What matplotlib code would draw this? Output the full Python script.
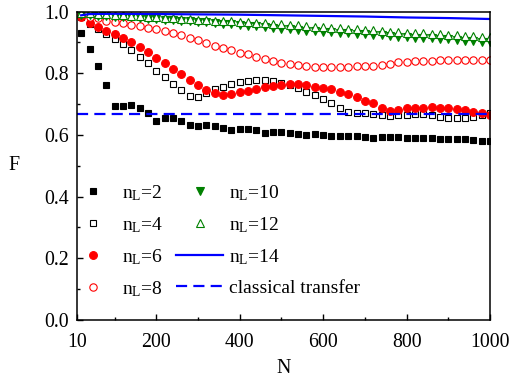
import numpy as np
import matplotlib.pyplot as plt
from matplotlib.ticker import MultipleLocator, FixedLocator

plt.rcParams['font.family'] = ['Liberation Serif', 'DejaVu Serif']
plt.rcParams['mathtext.fontset'] = 'custom'
plt.rcParams['mathtext.rm'] = 'Liberation Serif'
plt.rcParams['mathtext.it'] = 'Liberation Serif:italic'

# chain length N, sampled every 20 sites
N = np.arange(20, 1001, 20)

F2 = [0.929, 0.878, 0.824, 0.762, 0.695, 0.693, 0.697, 0.689, 0.670, 0.646,
      0.654, 0.654, 0.646, 0.631, 0.630, 0.633, 0.630, 0.622, 0.615, 0.619,
      0.620, 0.617, 0.606, 0.608, 0.609, 0.607, 0.602, 0.601, 0.603, 0.601,
      0.597, 0.597, 0.598, 0.597, 0.594, 0.590, 0.592, 0.593, 0.592, 0.589,
      0.591, 0.591, 0.589, 0.586, 0.586, 0.586, 0.586, 0.584, 0.581, 0.582]
F4 = [0.982, 0.959, 0.943, 0.926, 0.911, 0.896, 0.876, 0.854, 0.833, 0.809,
      0.788, 0.765, 0.746, 0.727, 0.724, 0.735, 0.748, 0.756, 0.765, 0.771,
      0.775, 0.778, 0.777, 0.775, 0.770, 0.762, 0.751, 0.740, 0.730, 0.717,
      0.703, 0.689, 0.676, 0.670, 0.670, 0.667, 0.664, 0.661, 0.664, 0.664,
      0.667, 0.667, 0.664, 0.659, 0.656, 0.654, 0.655, 0.659, 0.664, 0.670]
F6 = [0.981, 0.964, 0.951, 0.938, 0.927, 0.914, 0.901, 0.885, 0.868, 0.850,
      0.833, 0.814, 0.797, 0.778, 0.761, 0.746, 0.735, 0.730, 0.733, 0.738,
      0.743, 0.750, 0.754, 0.759, 0.762, 0.764, 0.765, 0.762, 0.756, 0.753,
      0.748, 0.740, 0.732, 0.722, 0.711, 0.703, 0.689, 0.677, 0.682, 0.686,
      0.688, 0.689, 0.690, 0.689, 0.687, 0.684, 0.680, 0.675, 0.670, 0.664]
F8 = [0.991, 0.984, 0.978, 0.970, 0.965, 0.962, 0.958, 0.953, 0.947, 0.942,
      0.937, 0.931, 0.924, 0.915, 0.907, 0.899, 0.890, 0.882, 0.875, 0.867,
      0.861, 0.853, 0.846, 0.839, 0.833, 0.829, 0.826, 0.823, 0.821, 0.820,
      0.819, 0.819, 0.821, 0.822, 0.823, 0.825, 0.827, 0.831, 0.836, 0.838,
      0.839, 0.840, 0.841, 0.842, 0.843, 0.843, 0.843, 0.843, 0.842, 0.842]
F10 = [0.990, 0.989, 0.987, 0.986, 0.984, 0.982, 0.981, 0.979, 0.977, 0.976,
       0.974, 0.972, 0.971, 0.969, 0.967, 0.966, 0.964, 0.961, 0.959, 0.956,
       0.954, 0.952, 0.949, 0.946, 0.944, 0.942, 0.940, 0.938, 0.936, 0.934,
       0.933, 0.931, 0.930, 0.928, 0.926, 0.925, 0.923, 0.921, 0.919, 0.918,
       0.916, 0.915, 0.913, 0.911, 0.910, 0.908, 0.906, 0.905, 0.903, 0.901]
F12 = [0.995, 0.994, 0.992, 0.991, 0.989, 0.988, 0.986, 0.985, 0.983, 0.982,
       0.980, 0.979, 0.977, 0.976, 0.974, 0.973, 0.971, 0.970, 0.968, 0.967,
       0.965, 0.964, 0.962, 0.961, 0.959, 0.957, 0.955, 0.953, 0.951, 0.949,
       0.948, 0.946, 0.944, 0.942, 0.940, 0.939, 0.937, 0.935, 0.933, 0.932,
       0.930, 0.929, 0.927, 0.926, 0.924, 0.923, 0.921, 0.920, 0.918, 0.917]

N14 = [20, 40, 100, 200, 300, 400, 500, 600, 700, 800, 900, 1000]
F14 = [0.988, 0.992, 0.993, 0.992, 0.991, 0.990, 0.988, 0.986, 0.984, 0.981, 0.979, 0.976]

N_cl = [10, 1000]
F_cl = [2 / 3, 2 / 3]

fig = plt.figure(figsize=(5.11, 3.79), dpi=100)
ax = fig.add_axes([0.1507, 0.1557, 0.8082, 0.8137])

ms = 5.0
ax.plot(N, F2, 's', color='black', ms=ms, mew=0.8, label=r'n$_{\rm L}$=2')
ax.plot(N, F4, 's', mfc='white', mec='black', ms=ms, mew=0.8, label=r'n$_{\rm L}$=4')
ax.plot(N, F6, 'o', color='red', ms=5.6, mew=0.8, label=r'n$_{\rm L}$=6')
ax.plot(N, F8, 'o', mfc='white', mec='red', ms=5.3, mew=0.8, label=r'n$_{\rm L}$=8')
ax.plot(N, F10, 'v', color='green', ms=5.6, mew=0.8, label=r'n$_{\rm L}$=10')
ax.plot(N, F12, '^', mfc='white', mec='green', ms=5.6, mew=0.8, label=r'n$_{\rm L}$=12')
ax.plot(N14, F14, '-', color='blue', lw=1.6, label=r'n$_{\rm L}$=14')
ax.plot(N_cl, F_cl, '--', color='blue', lw=1.6, dashes=(5, 2.8), label='classical transfer')

ax.set_xlim(10, 1000)
ax.set_ylim(0, 1.0)
ax.xaxis.set_major_locator(FixedLocator([10, 200, 400, 600, 800, 1000]))
ax.xaxis.set_minor_locator(FixedLocator([100, 300, 500, 700, 900]))
ax.yaxis.set_major_locator(MultipleLocator(0.2))
ax.yaxis.set_minor_locator(MultipleLocator(0.1))
ax.yaxis.set_major_formatter(plt.FormatStrFormatter('%.1f'))
ax.tick_params(which='both', direction='in', top=False, right=False, labelsize=14.3, width=1)
ax.tick_params(which='major', length=4.5)
ax.tick_params(which='minor', length=2.5)
ax.tick_params(axis='x', which='major', pad=9.5)
ax.tick_params(axis='y', which='major', pad=6)
for s in ax.spines.values():
    s.set_linewidth(1.1)

ax.set_xlabel('N', fontsize=14.3, va='center')
ax.xaxis.set_label_coords(0.5, -0.156)
ax.set_ylabel('F', fontsize=14.3, rotation=0, va='center', ha='center')
ax.yaxis.set_label_coords(-0.152, 0.5)

ax.legend(ncol=2, frameon=False, loc='lower left', bbox_to_anchor=(0.135, 0.212),
          bbox_transform=fig.transFigure, borderpad=0, borderaxespad=0,
          handlelength=2.45, handletextpad=0.3, columnspacing=0.62,
          labelspacing=0.63, fontsize=14)

fig.savefig('out.png', dpi=100)
